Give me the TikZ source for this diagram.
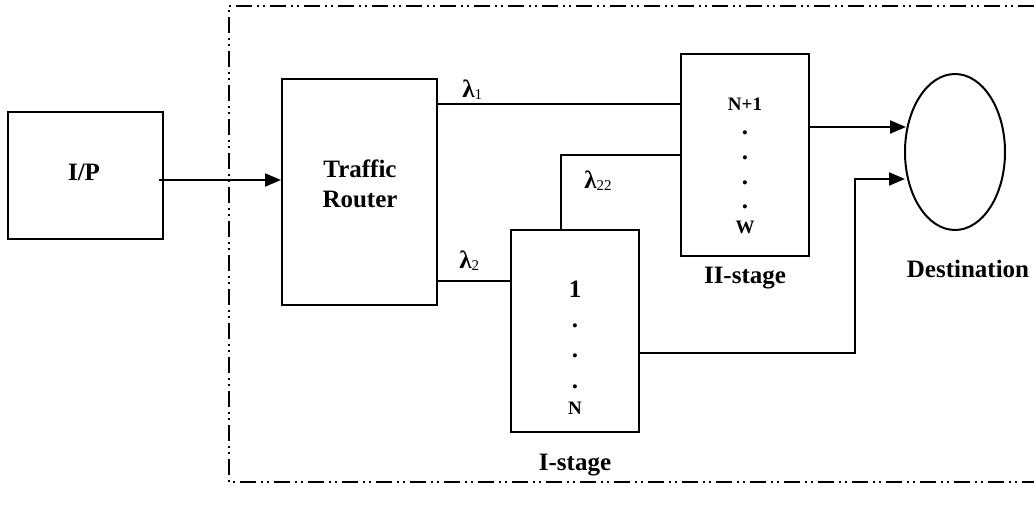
\documentclass[tikz,border=0pt]{standalone}
\usepackage{fontspec}
\setmainfont{Liberation Serif}
\usetikzlibrary{arrows.meta,shapes.geometric}
\newcommand{\lam}[1]{\textbf{λ}\raisebox{-2pt}{\fontsize{15}{15}\selectfont\mdseries #1}}
\begin{document}
\begin{tikzpicture}[x=1pt,y=-1pt,line width=2pt,
    font=\fontsize{25}{30}\selectfont\bfseries,
    blockbox/.style={draw,rectangle,minimum width=#1,inner sep=0pt},
    small/.style={font=\fontsize{19}{22}\selectfont\bfseries,anchor=base},
    arr/.style={-{Triangle[length=16pt,width=13pt]}}]
    \useasboundingbox (0,0) rectangle (1034,514);

    \draw [line width=1.5pt,dash pattern=on 16pt off 5pt on 2pt off 4pt on 2pt off 5pt]
        (1034,6)--(229,6)--(229,482)--(1034,482);

    \node [blockbox=155,minimum height=127] (ip) at (85.5,175.5) {};
    \node [blockbox=155,minimum height=226] (router) at (359.5,192) {};
    \node [blockbox=128,minimum height=202] (stageone) at (575,331) {};
    \node [blockbox=128,minimum height=202] (stagetwo) at (745,155) {};
    \node [draw,ellipse,minimum width=100,minimum height=156,inner sep=0pt] (dest) at (955,152) {};

    \node [anchor=base] (iptxt) at (84,180) {I/P};
    \node [align=center] (routertxt) at (360,184) {Traffic\\Router};

    \node [anchor=base] (one) at (575,297) {1};
    \node [anchor=base] (d1) at (575,327) {.};
    \node [anchor=base] (d2) at (575,357) {.};
    \node [anchor=base] (d3) at (575,388) {.};
    \node [small] (n) at (575,414) {N};

    \node [small] (np1) at (745,110) {N+1};
    \node [anchor=base] (e1) at (745,134) {.};
    \node [anchor=base] (e2) at (745,159) {.};
    \node [anchor=base] (e3) at (745,184) {.};
    \node [anchor=base] (e4) at (745,208) {.};
    \node [small] (w) at (745,233) {W};

    \node [anchor=base] (stageonelbl) at (575,470) {I-stage};
    \node [anchor=base] (stagetwolbl) at (745,283) {II-stage};
    \node [anchor=base] (destlbl) at (968,277) {Destination};

    \coordinate (in) at (0,180);
    \coordinate (l1) at (0,104);
    \coordinate (l2) at (0,281);
    \coordinate (l22) at (561,155);
    \coordinate (outtwo) at (0,127);
    \coordinate (outone) at (0,353);
    \coordinate (turn) at (855,0);
    \coordinate (inone) at (0,179);

    \draw [arr] ([xshift=-5pt]ip.east |- in) -- (router.west |- in);
    \draw (router.east |- l1) -- (stagetwo.west |- l1);
    \node [anchor=base west] (lamone) at (458,97) {\lam{1}};
    \draw (router.east |- l2) -- (stageone.west |- l2);
    \node [anchor=base west] (lamtwo) at (455,268) {\lam{2}};
    \draw (l22 |- stageone.north) -- (l22) -- (stagetwo.west |- l22);
    \node [anchor=base west] (lamtt) at (580,188) {\lam{22}};
    \draw [arr] (stagetwo.east |- outtwo) -- ([xshift=2pt]dest.west |- outtwo);
    \draw [arr] (stageone.east |- outone) -- (turn |- outone) -- (turn |- inone) -- ([xshift=1pt]dest.west |- inone);
\end{tikzpicture}
\end{document}
